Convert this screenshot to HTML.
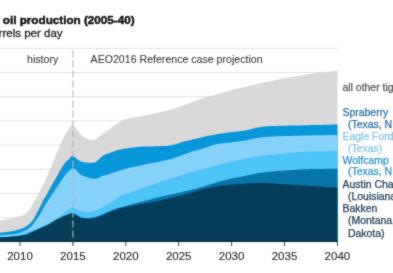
<!DOCTYPE html>
<html><head><meta charset="utf-8"><style>
html,body{margin:0;padding:0;background:#fff;width:393px;height:273px;overflow:hidden}
svg{display:block}
text{font-family:"Liberation Sans", sans-serif;stroke-width:0.45px}
.ax{font-size:11.5px;fill:#2a2a2a;stroke:#2a2a2a;stroke-width:0.12px}
.lg{font-size:10.45px;stroke-width:0.25px}
</style></head><body>
<svg width="393" height="273" viewBox="0 0 393 273">
<defs><filter id="bl" color-interpolation-filters="sRGB" x="0" y="0" width="393" height="273" filterUnits="userSpaceOnUse"><feConvolveMatrix order="3" kernelMatrix="1 2 1 2 16 2 1 2 1" divisor="28" edgeMode="duplicate" preserveAlpha="true"/></filter></defs>
<g filter="url(#bl)">
<rect width="393" height="273" fill="#fff"/>
<text x="2.8" y="24.2" style="font-size:11.7px;font-weight:bold;fill:#111;stroke:#111">oil production (2005-40)</text>
<text x="-1.4" y="37.3" style="font-size:11.5px;fill:#222;stroke:#222;stroke-width:0.3px">rrels per day</text>
<line x1="0" y1="48.3" x2="338" y2="48.3" stroke="#e2e2e2" stroke-width="1"/><line x1="0" y1="72.5" x2="338" y2="72.5" stroke="#e2e2e2" stroke-width="1"/><line x1="0" y1="96.7" x2="338" y2="96.7" stroke="#e2e2e2" stroke-width="1"/><line x1="0" y1="120.9" x2="338" y2="120.9" stroke="#e2e2e2" stroke-width="1"/><line x1="0" y1="145.1" x2="338" y2="145.1" stroke="#e2e2e2" stroke-width="1"/><line x1="0" y1="169.3" x2="338" y2="169.3" stroke="#e2e2e2" stroke-width="1"/><line x1="0" y1="193.5" x2="338" y2="193.5" stroke="#e2e2e2" stroke-width="1"/><line x1="0" y1="217.7" x2="338" y2="217.7" stroke="#e2e2e2" stroke-width="1"/>
<text x="27" y="62.8" style="font-size:10.6px;fill:#333;stroke:#333;stroke-width:0.05px">history</text>
<text x="90.6" y="62.8" style="font-size:10.6px;fill:#333;stroke:#333;stroke-width:0.05px">AEO2016 Reference case projection</text>
<polygon points="-2.0,221.0 -1.4,220.9 -0.7,220.7 0.1,220.6 1.0,220.4 2.0,220.2 3.0,220.0 4.1,219.8 5.3,219.5 6.4,219.3 7.6,219.0 8.8,218.8 10.0,218.6 11.1,218.3 12.2,218.1 13.2,217.8 14.1,217.6 15.0,217.4 16.3,217.1 17.5,216.8 18.7,216.5 19.8,216.3 20.8,216.0 21.7,215.7 22.7,215.4 23.6,215.0 24.4,214.6 25.3,214.0 26.7,212.9 27.9,211.5 29.1,210.0 30.2,208.4 31.2,206.8 32.2,205.3 33.3,203.6 34.3,201.9 35.2,200.2 36.2,198.2 37.4,196.0 38.3,194.3 39.2,192.6 40.2,190.8 41.2,188.8 42.4,186.6 43.6,184.0 45.0,181.0 45.9,178.9 46.9,176.5 48.1,173.9 49.2,171.1 50.4,168.2 51.7,165.2 52.9,162.3 54.0,159.4 55.1,156.7 56.2,154.2 57.1,151.9 57.9,150.0 59.6,145.9 60.6,143.3 61.4,141.5 62.3,139.5 63.5,137.2 64.6,135.1 65.8,133.1 67.1,131.3 68.2,129.7 69.2,128.1 70.4,126.6 71.5,125.6 72.7,125.3 73.7,125.8 74.8,126.8 75.9,128.2 77.0,129.8 78.1,131.3 79.2,132.6 80.2,133.6 81.1,134.7 82.1,135.6 83.0,136.5 84.0,137.3 85.2,138.0 86.2,138.5 87.2,138.9 88.3,139.3 89.5,139.7 90.7,139.9 91.8,140.1 92.9,140.1 94.0,140.0 95.1,139.6 96.2,139.0 97.2,138.2 98.2,137.4 99.3,136.4 100.4,135.4 101.6,134.5 102.6,133.8 103.7,133.0 104.8,132.2 105.9,131.4 107.1,130.6 108.2,129.8 109.4,129.0 110.5,128.2 111.5,127.5 112.6,126.7 113.7,126.0 114.7,125.2 115.7,124.5 116.7,123.9 117.7,123.2 118.7,122.6 119.7,122.0 120.7,121.5 121.7,121.0 122.6,120.5 123.6,120.0 124.5,119.6 125.6,119.2 126.7,118.9 128.0,118.5 128.8,118.3 129.7,118.1 130.6,117.9 131.6,117.8 132.5,117.6 133.5,117.5 134.6,117.3 135.6,117.2 136.7,117.0 137.7,116.9 138.8,116.7 139.9,116.5 141.0,116.3 142.0,116.1 142.9,115.9 143.9,115.7 144.9,115.5 145.9,115.3 147.0,115.1 148.0,114.9 149.1,114.7 150.1,114.4 151.2,114.2 152.2,114.0 153.3,113.7 154.4,113.5 155.4,113.2 156.5,113.0 157.5,112.8 158.5,112.5 159.5,112.3 160.6,112.1 161.6,111.8 162.6,111.6 163.7,111.4 164.7,111.1 165.7,110.9 166.8,110.6 167.8,110.3 168.9,110.1 169.9,109.8 170.9,109.5 172.0,109.2 173.0,108.9 174.0,108.6 175.1,108.2 176.2,107.9 177.4,107.5 178.5,107.1 179.6,106.7 180.8,106.3 181.9,105.9 183.0,105.5 184.0,105.1 185.1,104.7 186.1,104.4 187.0,104.0 187.9,103.7 188.7,103.4 189.4,103.1 191.1,102.4 192.0,102.0 192.6,101.6 193.5,101.3 195.0,100.7 195.7,100.5 196.5,100.2 197.4,99.9 198.3,99.6 199.3,99.3 200.3,99.0 201.4,98.7 202.5,98.4 203.5,98.1 204.7,97.8 205.8,97.4 206.8,97.1 207.9,96.8 209.0,96.5 210.0,96.2 211.0,95.9 212.0,95.6 213.0,95.3 214.0,95.0 215.0,94.7 216.0,94.4 217.0,94.2 218.0,93.9 219.0,93.6 220.0,93.3 221.0,93.0 222.0,92.7 223.0,92.5 224.0,92.2 225.0,91.9 226.0,91.6 227.0,91.4 228.0,91.1 229.0,90.8 230.0,90.6 231.0,90.3 232.0,90.0 233.0,89.8 234.0,89.5 235.0,89.3 236.0,89.0 237.0,88.8 238.0,88.5 239.0,88.3 240.0,88.0 241.0,87.8 242.0,87.5 243.0,87.3 244.0,87.0 245.0,86.8 246.0,86.5 247.0,86.3 248.0,86.0 249.0,85.8 250.0,85.6 251.0,85.3 252.0,85.1 253.0,84.9 254.0,84.6 255.0,84.4 256.0,84.2 257.0,84.0 258.0,83.7 259.0,83.5 260.0,83.3 261.0,83.1 262.0,82.9 263.0,82.7 264.0,82.4 265.0,82.2 266.0,82.0 267.0,81.8 268.0,81.6 269.0,81.4 270.0,81.2 271.0,81.0 272.0,80.8 273.0,80.6 274.0,80.4 275.0,80.2 276.0,80.0 277.0,79.8 278.0,79.6 279.0,79.4 280.0,79.2 281.0,79.0 282.0,78.8 283.0,78.6 284.0,78.4 285.0,78.2 286.0,78.0 287.0,77.8 288.0,77.6 289.0,77.5 290.0,77.3 291.0,77.1 292.0,76.9 293.0,76.8 294.0,76.6 295.0,76.4 296.0,76.3 297.0,76.1 298.0,75.9 299.0,75.8 300.0,75.6 301.0,75.4 301.9,75.3 302.9,75.1 303.8,75.0 304.7,74.8 305.6,74.7 306.6,74.5 307.5,74.4 308.5,74.2 309.4,74.1 310.5,73.9 311.5,73.8 312.6,73.6 313.8,73.5 315.0,73.3 315.9,73.2 316.8,73.1 317.9,72.9 318.9,72.8 320.1,72.7 321.2,72.5 322.4,72.4 323.6,72.2 324.8,72.1 326.0,71.9 327.2,71.8 328.4,71.7 329.5,71.5 330.7,71.4 331.7,71.3 332.8,71.2 333.8,71.0 334.7,70.9 335.5,70.8 336.3,70.7 336.9,70.7 337.5,70.6 337.5,242.0 -2,242.0" fill="#d9d9d9"/>
<polygon points="-2.0,233.2 -1.4,233.1 -0.7,233.0 0.1,232.9 1.0,232.8 2.0,232.6 3.0,232.5 4.1,232.3 5.3,232.2 6.4,232.0 7.6,231.8 8.8,231.6 10.0,231.4 11.1,231.3 12.2,231.1 13.2,230.9 14.1,230.7 15.0,230.5 16.3,230.2 17.5,229.9 18.7,229.6 19.8,229.2 20.8,228.9 21.7,228.6 22.7,228.2 23.6,227.8 24.4,227.4 25.3,226.9 26.6,226.1 27.9,225.3 29.0,224.4 30.0,223.4 31.1,222.3 32.2,220.9 33.4,219.2 34.6,217.2 35.8,215.0 37.0,212.8 38.1,210.7 39.1,208.8 40.3,206.3 41.4,204.0 42.3,201.9 43.2,200.0 43.9,198.9 44.4,198.3 46.4,195.0 47.1,193.8 47.9,192.4 48.8,190.8 49.7,189.0 50.8,187.1 51.9,185.1 53.0,183.0 54.2,180.9 55.4,178.8 56.6,176.7 57.7,174.7 58.8,172.7 59.9,170.9 60.8,169.2 61.7,167.8 62.5,166.5 64.0,164.2 65.3,162.6 66.3,161.4 67.2,160.5 68.0,159.9 68.8,159.3 69.5,158.6 70.8,157.0 71.6,156.1 73.0,156.0 73.8,156.3 74.6,156.9 75.5,157.7 76.5,158.6 77.6,159.5 78.7,160.3 79.8,161.1 81.0,161.6 81.9,161.9 82.9,162.1 84.0,162.3 85.1,162.4 86.2,162.5 87.3,162.6 88.4,162.7 89.4,162.7 90.4,162.7 91.2,162.7 92.0,162.7 93.5,162.7 94.5,162.6 95.3,162.3 96.4,161.6 97.4,160.8 98.4,159.8 99.6,158.6 100.7,157.5 101.9,156.4 103.0,155.5 104.1,154.9 105.1,154.4 106.1,154.1 107.1,153.8 108.3,153.4 109.6,153.0 110.4,152.7 111.3,152.4 112.1,152.0 113.0,151.7 114.0,151.3 115.0,151.0 116.1,150.6 117.2,150.3 118.6,149.9 120.0,149.6 120.8,149.4 121.6,149.3 122.5,149.1 123.5,148.9 124.4,148.8 125.5,148.6 126.5,148.4 127.5,148.3 128.6,148.1 129.7,148.0 130.8,147.8 131.9,147.7 133.0,147.5 134.1,147.4 135.1,147.2 136.2,147.1 137.2,147.0 138.2,146.9 139.1,146.8 140.0,146.7 141.1,146.6 142.3,146.5 143.3,146.5 144.4,146.4 145.4,146.4 146.4,146.4 147.3,146.4 148.3,146.4 149.2,146.4 150.2,146.4 151.1,146.4 152.1,146.4 153.0,146.4 154.0,146.3 155.0,146.3 156.0,146.3 157.0,146.2 158.0,146.2 159.1,146.2 160.1,146.2 161.1,146.1 162.1,146.1 163.1,146.1 164.1,146.0 165.1,146.0 166.1,145.9 167.1,145.9 168.1,145.8 169.1,145.6 170.0,145.5 171.1,145.3 172.2,145.1 173.3,144.8 174.3,144.5 175.4,144.2 176.5,143.9 177.5,143.5 178.5,143.2 179.5,142.9 180.5,142.6 181.4,142.3 182.2,142.0 183.0,141.8 184.2,141.5 185.2,141.3 186.0,141.1 186.8,140.9 187.6,140.7 188.6,140.5 190.0,140.2 190.8,140.0 191.6,139.8 192.6,139.6 193.6,139.3 194.6,139.1 195.7,138.8 196.8,138.5 197.9,138.2 199.0,138.0 200.1,137.7 201.1,137.4 202.2,137.2 203.2,136.9 204.1,136.7 205.0,136.5 206.2,136.2 207.2,136.0 208.2,135.8 209.1,135.6 210.0,135.4 210.9,135.2 211.8,135.1 212.8,134.9 213.8,134.7 215.0,134.5 215.9,134.4 216.7,134.2 217.7,134.1 218.6,133.9 219.6,133.8 220.6,133.6 221.7,133.5 222.7,133.3 223.8,133.2 224.8,133.0 225.9,132.9 226.9,132.7 228.0,132.6 229.0,132.4 230.0,132.3 231.0,132.2 232.0,132.1 232.9,131.9 233.9,131.8 234.8,131.8 235.8,131.7 236.7,131.6 237.7,131.5 238.6,131.4 239.6,131.2 240.6,131.1 241.7,131.0 242.7,130.8 243.9,130.7 245.0,130.5 245.9,130.3 246.7,130.2 247.5,130.0 248.4,129.8 249.2,129.6 250.0,129.4 250.8,129.2 251.7,128.9 252.5,128.7 253.4,128.5 254.4,128.2 255.3,128.0 256.3,127.8 257.4,127.6 258.5,127.4 259.6,127.2 260.9,127.0 262.2,126.8 263.5,126.6 265.0,126.5 265.8,126.4 266.6,126.4 267.4,126.3 268.2,126.3 269.1,126.2 270.0,126.2 270.9,126.1 271.8,126.1 272.8,126.0 273.8,126.0 274.8,126.0 275.8,125.9 276.8,125.9 277.8,125.9 278.9,125.8 279.9,125.8 281.0,125.8 282.1,125.7 283.1,125.7 284.2,125.7 285.3,125.7 286.4,125.7 287.5,125.6 288.6,125.6 289.7,125.6 290.8,125.6 291.8,125.6 292.9,125.5 294.0,125.5 295.1,125.5 296.1,125.5 297.2,125.5 298.2,125.5 299.2,125.4 300.2,125.4 301.2,125.4 302.2,125.4 303.1,125.3 304.1,125.3 305.0,125.3 306.1,125.3 307.3,125.2 308.5,125.2 309.6,125.2 310.8,125.1 312.0,125.1 313.2,125.1 314.4,125.1 315.6,125.0 316.8,125.0 318.0,125.0 319.2,124.9 320.3,124.9 321.5,124.9 322.6,124.9 323.8,124.8 324.9,124.8 325.9,124.8 327.0,124.7 328.0,124.7 329.0,124.7 330.0,124.7 330.9,124.7 331.8,124.6 332.7,124.6 333.5,124.6 334.3,124.6 335.0,124.6 335.7,124.5 336.4,124.5 337.0,124.5 337.5,124.5 337.5,242.0 -2,242.0" fill="#0896da"/>
<polygon points="-2.0,235.5 -1.4,235.5 -0.7,235.4 0.1,235.4 1.0,235.3 2.0,235.2 3.0,235.2 4.1,235.1 5.3,235.0 6.4,234.9 7.6,234.8 8.8,234.7 10.0,234.6 11.1,234.5 12.2,234.4 13.2,234.3 14.1,234.1 15.0,234.0 16.3,233.7 17.6,233.4 18.8,233.1 19.9,232.7 20.9,232.3 21.9,232.0 22.8,231.6 23.7,231.2 24.5,230.8 25.3,230.5 26.9,229.7 28.2,228.9 29.1,228.2 30.0,227.5 31.0,226.9 32.2,225.5 33.1,224.3 34.2,222.8 35.4,221.1 36.7,219.3 38.0,217.5 39.1,215.7 40.4,213.6 41.6,211.5 42.7,209.3 43.9,207.3 45.0,205.3 46.0,203.7 46.9,202.4 47.8,201.0 48.9,199.3 50.5,197.0 51.3,195.7 52.3,194.3 53.3,192.7 54.4,190.9 55.5,189.1 56.7,187.3 57.9,185.4 59.1,183.6 60.2,181.9 61.4,180.3 62.4,178.8 63.4,177.5 64.6,176.0 65.8,174.5 66.9,173.2 68.0,171.9 69.0,170.9 70.0,170.0 71.0,169.3 72.0,168.8 73.0,168.5 74.0,168.6 75.0,169.1 75.9,169.8 76.8,170.8 77.7,171.9 78.7,173.0 79.8,174.0 81.0,174.8 81.9,175.2 82.8,175.6 83.8,176.0 84.8,176.4 85.9,176.8 87.0,177.1 88.1,177.5 89.2,177.8 90.3,178.1 91.3,178.3 92.4,178.5 93.3,178.6 94.2,178.7 95.5,178.7 96.7,178.5 97.7,178.2 98.7,177.8 99.7,177.3 100.7,176.8 101.8,176.3 103.0,175.9 103.9,175.6 104.9,175.3 105.8,175.0 106.8,174.7 107.9,174.4 108.9,174.0 109.9,173.7 110.9,173.4 112.0,173.0 113.0,172.7 114.0,172.4 115.0,172.1 115.9,171.8 116.9,171.5 117.8,171.2 118.8,170.9 119.7,170.5 120.7,170.2 121.7,169.9 122.8,169.6 123.8,169.3 125.0,169.0 125.9,168.8 126.7,168.6 127.5,168.4 128.3,168.1 129.1,167.9 130.0,167.7 130.9,167.5 131.8,167.3 132.7,167.1 133.7,166.9 134.8,166.6 136.0,166.4 137.2,166.1 138.6,165.8 140.0,165.5 140.8,165.3 141.6,165.2 142.4,165.0 143.3,164.8 144.2,164.6 145.2,164.4 146.2,164.2 147.2,164.0 148.2,163.8 149.3,163.6 150.3,163.4 151.4,163.2 152.5,163.0 153.6,162.8 154.7,162.6 155.8,162.3 156.9,162.1 158.0,161.9 159.1,161.7 160.2,161.4 161.3,161.2 162.3,161.0 163.4,160.8 164.4,160.5 165.4,160.3 166.4,160.1 167.3,159.9 168.3,159.6 169.1,159.4 170.0,159.2 171.2,158.9 172.4,158.5 173.6,158.2 174.7,157.8 175.8,157.5 176.9,157.1 177.9,156.7 179.0,156.4 180.0,156.0 180.9,155.6 181.9,155.3 182.8,154.9 183.8,154.5 184.7,154.2 185.6,153.9 186.5,153.5 187.4,153.2 188.2,152.9 189.1,152.6 190.0,152.3 191.2,151.9 192.3,151.6 193.4,151.3 194.5,150.9 195.6,150.6 196.6,150.4 197.6,150.1 198.6,149.8 199.6,149.5 200.6,149.3 201.5,149.0 202.4,148.8 203.3,148.5 204.2,148.3 205.0,148.0 206.2,147.6 207.2,147.2 208.2,146.8 209.1,146.5 210.0,146.1 210.9,145.8 211.8,145.4 212.8,145.1 213.8,144.8 215.0,144.5 215.9,144.3 216.7,144.2 217.7,144.0 218.6,143.9 219.6,143.7 220.6,143.6 221.7,143.5 222.7,143.3 223.8,143.2 224.8,143.1 225.9,143.0 226.9,142.9 228.0,142.8 229.0,142.6 230.0,142.5 231.0,142.4 232.0,142.2 232.9,142.1 233.9,142.0 234.8,141.9 235.8,141.8 236.7,141.7 237.7,141.5 238.6,141.4 239.6,141.3 240.6,141.1 241.7,141.0 242.7,140.8 243.9,140.7 245.0,140.5 245.9,140.4 246.7,140.2 247.5,140.0 248.4,139.9 249.2,139.7 250.0,139.5 250.8,139.3 251.7,139.1 252.5,138.9 253.4,138.7 254.4,138.5 255.3,138.3 256.3,138.1 257.4,138.0 258.5,137.8 259.6,137.6 260.9,137.4 262.2,137.3 263.5,137.1 265.0,137.0 265.8,136.9 266.6,136.9 267.4,136.8 268.2,136.8 269.1,136.7 270.0,136.7 270.9,136.6 271.8,136.6 272.8,136.5 273.8,136.5 274.8,136.4 275.8,136.4 276.8,136.3 277.8,136.3 278.9,136.2 279.9,136.2 281.0,136.2 282.1,136.1 283.1,136.1 284.2,136.1 285.3,136.0 286.4,136.0 287.5,136.0 288.6,135.9 289.7,135.9 290.8,135.9 291.8,135.8 292.9,135.8 294.0,135.8 295.1,135.8 296.1,135.7 297.2,135.7 298.2,135.7 299.2,135.7 300.2,135.6 301.2,135.6 302.2,135.6 303.1,135.6 304.1,135.5 305.0,135.5 306.1,135.5 307.3,135.4 308.5,135.4 309.6,135.4 310.8,135.4 312.0,135.3 313.2,135.3 314.4,135.3 315.6,135.3 316.8,135.3 318.0,135.2 319.2,135.2 320.3,135.2 321.5,135.2 322.6,135.2 323.8,135.2 324.9,135.1 325.9,135.1 327.0,135.1 328.0,135.1 329.0,135.1 330.0,135.1 330.9,135.1 331.8,135.1 332.7,135.1 333.5,135.0 334.3,135.0 335.0,135.0 335.7,135.0 336.4,135.0 337.0,135.0 337.5,135.0 337.5,242.0 -2,242.0" fill="#86d1f8"/>
<polygon points="-2.0,236.5 -1.4,236.5 -0.8,236.4 0.0,236.4 0.9,236.4 1.8,236.4 2.8,236.4 3.9,236.3 5.0,236.3 6.1,236.3 7.3,236.2 8.5,236.2 9.6,236.1 10.8,236.0 11.9,235.9 13.0,235.8 14.0,235.7 15.0,235.5 16.1,235.3 17.1,235.1 18.2,234.8 19.3,234.5 20.3,234.2 21.4,233.9 22.4,233.6 23.4,233.3 24.5,232.9 25.4,232.6 26.4,232.3 27.4,231.9 28.3,231.6 29.1,231.3 30.0,231.0 31.2,230.6 32.3,230.2 33.3,229.8 34.2,229.5 35.2,229.1 36.1,228.7 37.0,228.3 37.9,227.9 38.9,227.5 40.0,227.0 40.9,226.6 41.9,226.2 42.8,225.8 43.8,225.4 44.7,224.9 45.7,224.5 46.7,224.0 47.8,223.5 48.9,222.9 50.0,222.3 51.2,221.6 52.4,220.9 53.3,220.3 54.3,219.7 55.4,218.9 56.5,218.2 57.6,217.4 58.8,216.5 60.0,215.7 61.2,214.8 62.4,214.0 63.5,213.1 64.7,212.3 65.7,211.5 66.8,210.8 67.7,210.1 68.6,209.5 69.3,208.9 70.0,208.5 71.8,207.1 72.0,207.0 73.0,207.5 73.7,207.7 74.6,208.1 75.5,208.5 76.5,209.0 77.6,209.5 78.7,210.0 79.9,210.5 81.0,210.9 82.1,211.3 83.2,211.5 84.2,211.7 85.1,211.8 86.0,211.9 87.0,211.9 87.9,212.0 88.9,212.0 89.8,211.9 90.9,211.8 91.9,211.6 93.0,211.3 94.2,211.0 95.1,210.7 96.1,210.3 97.1,209.9 98.1,209.5 99.2,209.0 100.3,208.5 101.4,207.9 102.5,207.3 103.6,206.8 104.7,206.2 105.7,205.6 106.8,205.0 107.8,204.5 108.7,203.9 109.6,203.4 110.8,202.6 112.0,201.8 113.1,201.0 114.1,200.2 115.1,199.4 116.1,198.7 117.1,197.9 118.0,197.2 119.0,196.6 120.0,196.0 120.9,195.5 121.7,195.2 122.4,194.9 123.1,194.7 123.8,194.4 124.6,194.2 125.5,193.9 126.7,193.6 128.2,193.1 130.0,192.5 130.7,192.3 131.4,192.0 132.2,191.7 133.1,191.4 134.0,191.1 134.9,190.8 135.8,190.4 136.8,190.1 137.8,189.7 138.9,189.4 140.0,189.0 141.0,188.6 142.1,188.2 143.3,187.8 144.4,187.4 145.5,187.0 146.6,186.6 147.8,186.2 148.9,185.9 150.0,185.5 151.1,185.1 152.2,184.7 153.3,184.3 154.3,184.0 155.3,183.6 156.3,183.3 157.3,182.9 158.2,182.6 159.1,182.3 160.0,182.0 161.2,181.6 162.4,181.2 163.5,180.8 164.6,180.4 165.7,180.1 166.7,179.7 167.7,179.4 168.7,179.1 169.7,178.7 170.6,178.4 171.6,178.1 172.5,177.8 173.4,177.5 174.3,177.3 175.2,177.0 176.2,176.7 177.1,176.4 178.0,176.1 179.0,175.8 180.0,175.5 181.0,175.2 182.0,174.9 182.9,174.6 183.8,174.4 184.8,174.1 185.7,173.9 186.6,173.6 187.5,173.3 188.4,173.1 189.4,172.8 190.3,172.6 191.3,172.3 192.3,172.1 193.3,171.8 194.3,171.5 195.4,171.2 196.5,171.0 197.6,170.6 198.8,170.3 200.0,170.0 200.8,169.8 201.7,169.5 202.6,169.3 203.5,169.0 204.4,168.8 205.4,168.5 206.3,168.3 207.3,168.0 208.3,167.7 209.3,167.4 210.3,167.2 211.3,166.9 212.3,166.6 213.3,166.3 214.4,166.0 215.4,165.7 216.5,165.5 217.5,165.2 218.6,164.9 219.6,164.6 220.7,164.3 221.7,164.1 222.8,163.8 223.8,163.5 224.9,163.2 225.9,163.0 227.0,162.7 228.0,162.5 229.0,162.2 230.0,162.0 231.0,161.8 232.0,161.5 233.0,161.3 234.1,161.1 235.1,160.8 236.2,160.6 237.2,160.4 238.3,160.2 239.3,159.9 240.4,159.7 241.4,159.5 242.5,159.3 243.5,159.0 244.6,158.8 245.6,158.6 246.7,158.4 247.7,158.2 248.7,158.0 249.7,157.8 250.7,157.6 251.7,157.4 252.7,157.3 253.7,157.1 254.6,156.9 255.6,156.7 256.5,156.6 257.4,156.4 258.3,156.3 259.2,156.1 260.0,156.0 261.2,155.8 262.4,155.6 263.5,155.5 264.6,155.3 265.6,155.2 266.6,155.1 267.5,155.0 268.5,154.9 269.4,154.8 270.3,154.8 271.2,154.7 272.1,154.6 273.0,154.6 273.9,154.5 274.9,154.4 275.8,154.4 276.8,154.3 277.8,154.2 278.9,154.1 280.0,154.0 280.9,153.9 281.8,153.8 282.7,153.7 283.6,153.6 284.6,153.5 285.5,153.4 286.4,153.3 287.4,153.2 288.3,153.1 289.3,153.0 290.2,152.9 291.2,152.8 292.2,152.7 293.2,152.6 294.2,152.5 295.2,152.4 296.3,152.3 297.3,152.2 298.4,152.1 299.4,152.1 300.5,152.0 301.6,151.9 302.7,151.8 303.9,151.8 305.0,151.7 305.9,151.7 306.9,151.6 307.9,151.6 308.9,151.5 310.0,151.5 311.1,151.5 312.2,151.4 313.4,151.4 314.5,151.4 315.7,151.3 316.9,151.3 318.1,151.3 319.3,151.3 320.4,151.2 321.6,151.2 322.8,151.2 324.0,151.2 325.1,151.2 326.3,151.2 327.4,151.1 328.4,151.1 329.5,151.1 330.5,151.1 331.5,151.1 332.4,151.1 333.3,151.1 334.2,151.1 334.9,151.0 335.7,151.0 336.3,151.0 337.0,151.0 337.5,151.0 337.5,242.0 -2,242.0" fill="#4dc5f8"/>
<polygon points="-2.0,237.5 -1.4,237.5 -0.7,237.4 0.1,237.4 1.0,237.3 2.0,237.3 3.0,237.2 4.1,237.2 5.3,237.1 6.4,237.0 7.6,237.0 8.8,236.9 10.0,236.8 11.1,236.7 12.2,236.6 13.2,236.6 14.1,236.5 15.0,236.4 16.3,236.3 17.6,236.1 18.8,235.9 19.9,235.8 20.9,235.6 21.9,235.4 22.8,235.2 23.7,235.1 24.5,234.9 25.3,234.7 26.6,234.4 27.2,234.1 28.1,233.7 30.0,232.8 30.7,232.5 31.5,232.2 32.3,231.8 33.3,231.4 34.2,231.0 35.3,230.5 36.4,230.1 37.5,229.6 38.6,229.1 39.7,228.6 40.9,228.1 42.0,227.6 43.1,227.1 44.2,226.6 45.3,226.1 46.3,225.7 47.2,225.2 48.4,224.6 49.5,224.0 50.7,223.3 51.8,222.7 52.8,222.1 53.9,221.4 54.9,220.8 56.0,220.1 57.0,219.5 58.0,219.0 59.0,218.4 60.0,217.9 61.0,217.4 62.1,216.9 63.1,216.4 64.2,215.9 65.2,215.4 66.3,215.0 67.3,214.5 68.3,214.2 69.3,213.8 70.3,213.6 71.2,213.4 72.1,213.2 73.0,213.2 74.1,213.3 75.1,213.7 76.1,214.2 77.0,214.8 77.9,215.5 78.8,216.1 79.8,216.7 80.8,217.2 82.0,217.5 82.9,217.6 83.8,217.7 84.7,217.8 85.6,217.9 86.6,217.9 87.6,217.9 88.6,217.9 89.7,217.8 90.7,217.7 91.8,217.6 92.8,217.4 93.9,217.2 95.0,217.0 96.0,216.8 96.9,216.5 98.0,216.1 99.0,215.7 100.0,215.3 101.1,214.9 102.2,214.4 103.2,214.0 104.3,213.5 105.3,213.0 106.3,212.6 107.3,212.1 108.2,211.7 109.1,211.3 110.0,211.0 111.1,210.6 111.8,210.3 112.4,210.0 112.9,209.8 113.4,209.5 114.1,209.3 115.0,209.0 116.2,208.6 117.8,208.1 120.0,207.5 120.6,207.3 121.3,207.1 122.1,206.9 122.9,206.7 123.7,206.5 124.6,206.2 125.5,206.0 126.4,205.8 127.4,205.5 128.4,205.2 129.4,205.0 130.4,204.7 131.5,204.4 132.6,204.1 133.7,203.8 134.8,203.5 135.9,203.2 137.1,202.9 138.2,202.6 139.4,202.3 140.5,202.0 141.7,201.7 142.8,201.4 144.0,201.1 145.1,200.8 146.3,200.5 147.4,200.2 148.5,199.9 149.6,199.6 150.7,199.4 151.8,199.1 152.8,198.8 153.8,198.6 154.8,198.3 155.8,198.1 156.7,197.8 157.6,197.6 158.4,197.4 159.2,197.2 160.0,197.0 161.5,196.6 162.8,196.3 164.1,196.0 165.3,195.7 166.4,195.5 167.5,195.2 168.5,195.0 169.4,194.8 170.4,194.6 171.2,194.4 172.1,194.2 173.0,194.0 173.8,193.9 174.6,193.7 175.5,193.5 176.3,193.3 177.2,193.1 178.1,192.9 179.0,192.7 180.0,192.5 181.0,192.3 182.0,192.0 183.0,191.8 183.9,191.6 184.9,191.3 185.8,191.1 186.8,190.9 187.8,190.7 188.7,190.4 189.7,190.2 190.7,189.9 191.6,189.7 192.6,189.5 193.6,189.2 194.6,188.9 195.7,188.7 196.7,188.4 197.8,188.1 198.9,187.8 200.0,187.5 200.9,187.2 201.9,187.0 202.8,186.7 203.8,186.4 204.8,186.1 205.9,185.8 206.9,185.5 208.0,185.1 209.0,184.8 210.1,184.5 211.2,184.1 212.3,183.8 213.3,183.5 214.4,183.1 215.5,182.8 216.5,182.5 217.6,182.2 218.6,181.8 219.6,181.5 220.6,181.3 221.5,181.0 222.4,180.7 223.3,180.5 224.2,180.2 225.0,180.0 226.3,179.7 227.4,179.4 228.5,179.1 229.5,178.9 230.4,178.7 231.2,178.6 232.1,178.4 232.9,178.3 233.8,178.1 234.6,178.0 235.5,177.8 236.5,177.6 237.6,177.5 238.7,177.2 240.0,177.0 240.8,176.8 241.6,176.7 242.4,176.5 243.3,176.3 244.1,176.1 245.0,175.9 245.9,175.7 246.7,175.5 247.6,175.3 248.6,175.1 249.5,174.9 250.5,174.7 251.4,174.5 252.4,174.3 253.4,174.1 254.5,173.9 255.5,173.7 256.6,173.5 257.7,173.3 258.9,173.1 260.0,172.9 261.2,172.7 262.5,172.5 263.7,172.4 265.0,172.2 265.8,172.1 266.7,172.0 267.5,171.9 268.4,171.8 269.3,171.7 270.3,171.6 271.2,171.5 272.2,171.5 273.1,171.4 274.1,171.3 275.1,171.2 276.1,171.1 277.2,171.0 278.2,170.9 279.2,170.9 280.3,170.8 281.3,170.7 282.4,170.6 283.5,170.6 284.5,170.5 285.6,170.4 286.7,170.3 287.7,170.3 288.8,170.2 289.9,170.1 291.0,170.1 292.0,170.0 293.1,169.9 294.1,169.9 295.2,169.8 296.2,169.8 297.2,169.7 298.3,169.6 299.3,169.6 300.3,169.5 301.2,169.5 302.2,169.4 303.2,169.4 304.1,169.3 305.0,169.3 306.1,169.2 307.3,169.2 308.5,169.2 309.6,169.1 310.8,169.1 312.0,169.1 313.2,169.0 314.4,169.0 315.6,169.0 316.8,168.9 318.0,168.9 319.2,168.9 320.3,168.9 321.5,168.9 322.6,168.9 323.8,168.9 324.9,168.9 325.9,168.9 327.0,168.8 328.0,168.8 329.0,168.8 330.0,168.8 330.9,168.8 331.8,168.8 332.7,168.8 333.5,168.8 334.3,168.8 335.0,168.8 335.7,168.8 336.4,168.8 337.0,168.8 337.5,168.8 337.5,242.0 -2,242.0" fill="#0875aa"/>
<polygon points="-2.0,237.5 -1.4,237.5 -0.7,237.4 0.1,237.4 1.0,237.3 2.0,237.3 3.0,237.2 4.1,237.2 5.3,237.1 6.4,237.0 7.6,237.0 8.8,236.9 10.0,236.8 11.1,236.7 12.2,236.6 13.2,236.6 14.1,236.5 15.0,236.4 16.3,236.3 17.6,236.1 18.8,235.9 19.9,235.8 20.9,235.6 21.9,235.4 22.8,235.2 23.7,235.1 24.5,234.9 25.3,234.7 26.6,234.4 27.2,234.1 28.1,233.7 30.0,232.8 30.7,232.5 31.5,232.1 32.4,231.7 33.4,231.3 34.5,230.8 35.6,230.4 36.8,229.9 38.0,229.3 39.2,228.8 40.3,228.3 41.5,227.8 42.6,227.3 43.7,226.8 44.7,226.4 45.6,225.9 46.5,225.5 47.2,225.2 49.0,224.3 50.0,223.7 50.7,223.2 51.3,222.7 52.4,222.0 53.3,221.5 54.3,220.9 55.4,220.3 56.5,219.7 57.6,219.1 58.7,218.5 59.9,217.9 61.0,217.4 62.0,217.0 63.1,216.5 64.2,216.1 65.3,215.6 66.4,215.2 67.4,214.9 68.4,214.5 69.3,214.2 70.0,214.0 71.2,213.4 71.8,213.2 73.0,213.5 73.7,213.8 74.5,214.3 75.4,214.8 76.4,215.4 77.4,216.0 78.5,216.6 79.6,217.2 80.8,217.7 82.0,218.0 82.9,218.2 83.8,218.3 84.7,218.4 85.6,218.5 86.6,218.6 87.6,218.6 88.6,218.7 89.7,218.6 90.7,218.6 91.8,218.5 92.8,218.4 93.9,218.2 95.0,218.0 96.0,217.8 96.9,217.5 98.0,217.1 99.0,216.8 100.0,216.4 101.1,215.9 102.2,215.5 103.2,215.0 104.3,214.5 105.3,214.0 106.3,213.6 107.3,213.1 108.2,212.7 109.1,212.3 110.0,212.0 111.2,211.5 112.3,211.1 113.4,210.7 114.4,210.4 115.3,210.0 116.2,209.7 117.2,209.4 118.1,209.1 119.0,208.8 120.0,208.5 120.9,208.2 121.7,208.0 122.4,207.9 123.0,207.7 123.8,207.5 124.6,207.4 125.5,207.2 126.7,206.9 128.2,206.7 130.0,206.3 130.7,206.2 131.4,206.0 132.2,205.9 133.0,205.7 133.8,205.6 134.7,205.4 135.6,205.2 136.6,205.1 137.5,204.9 138.5,204.7 139.5,204.5 140.6,204.3 141.6,204.1 142.7,203.9 143.8,203.7 144.8,203.5 145.9,203.3 147.0,203.1 148.1,202.9 149.3,202.7 150.4,202.5 151.5,202.3 152.6,202.0 153.7,201.8 154.8,201.6 155.8,201.4 156.9,201.2 158.0,200.9 159.0,200.7 160.0,200.5 161.0,200.3 162.0,200.0 163.1,199.8 164.2,199.6 165.2,199.3 166.3,199.0 167.4,198.8 168.5,198.5 169.6,198.2 170.7,198.0 171.9,197.7 173.0,197.4 174.1,197.1 175.2,196.9 176.2,196.6 177.3,196.3 178.4,196.0 179.4,195.8 180.5,195.5 181.5,195.2 182.5,195.0 183.4,194.7 184.4,194.5 185.3,194.2 186.2,194.0 187.0,193.8 187.8,193.6 188.6,193.4 189.3,193.2 190.0,193.0 191.8,192.5 193.1,192.1 194.1,191.8 194.9,191.5 195.6,191.3 196.2,191.1 196.8,190.9 197.6,190.6 198.6,190.3 200.0,190.0 200.8,189.8 201.6,189.6 202.4,189.4 203.3,189.2 204.3,189.0 205.3,188.8 206.3,188.5 207.3,188.3 208.3,188.1 209.4,187.8 210.5,187.6 211.6,187.4 212.7,187.1 213.7,186.9 214.8,186.7 215.9,186.5 217.0,186.3 218.0,186.1 219.0,185.9 220.0,185.8 221.0,185.6 222.0,185.4 223.1,185.3 224.1,185.2 225.1,185.1 226.1,185.0 227.0,184.9 228.0,184.8 229.0,184.7 230.0,184.6 230.9,184.6 231.9,184.5 232.9,184.4 233.8,184.4 234.8,184.3 235.8,184.2 236.9,184.2 237.9,184.1 238.9,184.1 240.0,184.0 240.9,183.9 241.8,183.9 242.7,183.8 243.6,183.7 244.4,183.7 245.3,183.6 246.1,183.5 247.0,183.4 247.8,183.4 248.7,183.3 249.6,183.2 250.5,183.2 251.5,183.1 252.5,183.1 253.5,183.0 254.5,183.0 255.7,183.0 256.8,183.0 258.0,183.0 259.3,183.0 260.6,183.0 262.0,183.0 262.8,183.0 263.6,183.0 264.4,183.1 265.3,183.1 266.1,183.1 267.0,183.2 268.0,183.2 268.9,183.3 269.9,183.3 270.8,183.4 271.8,183.4 272.8,183.5 273.8,183.5 274.8,183.6 275.9,183.7 276.9,183.7 278.0,183.8 279.0,183.9 280.1,183.9 281.2,184.0 282.3,184.1 283.3,184.2 284.4,184.2 285.5,184.3 286.6,184.4 287.7,184.5 288.8,184.5 289.8,184.6 290.9,184.7 292.0,184.8 293.0,184.8 294.1,184.9 295.1,185.0 296.2,185.0 297.2,185.1 298.2,185.2 299.2,185.2 300.2,185.3 301.1,185.4 302.1,185.4 303.0,185.5 304.1,185.6 305.3,185.6 306.4,185.7 307.6,185.8 308.7,185.9 309.9,185.9 311.1,186.0 312.3,186.1 313.5,186.2 314.7,186.3 315.9,186.3 317.0,186.4 318.2,186.5 319.4,186.6 320.5,186.7 321.7,186.7 322.8,186.8 323.9,186.9 325.0,187.0 326.1,187.0 327.1,187.1 328.1,187.2 329.1,187.2 330.1,187.3 331.0,187.4 331.9,187.4 332.7,187.5 333.6,187.5 334.3,187.6 335.1,187.6 335.7,187.7 336.4,187.7 337.0,187.8 337.5,187.8 337.5,242.0 -2,242.0" fill="#063e59"/>
<line x1="72.9" y1="50.5" x2="72.9" y2="244" stroke="#b4b4b4" stroke-width="1.1" stroke-dasharray="7,3"/>
<line x1="0" y1="241.4" x2="337.5" y2="241.4" stroke="#082838" stroke-width="1.2"/>
<line x1="20.0" y1="242.0" x2="20.0" y2="246" stroke="#444" stroke-width="1"/><text x="20.0" y="260" text-anchor="middle" class="ax">2010</text><line x1="72.9" y1="242.0" x2="72.9" y2="246" stroke="#444" stroke-width="1"/><text x="72.9" y="260" text-anchor="middle" class="ax">2015</text><line x1="125.8" y1="242.0" x2="125.8" y2="246" stroke="#444" stroke-width="1"/><text x="125.8" y="260" text-anchor="middle" class="ax">2020</text><line x1="178.7" y1="242.0" x2="178.7" y2="246" stroke="#444" stroke-width="1"/><text x="178.7" y="260" text-anchor="middle" class="ax">2025</text><line x1="231.6" y1="242.0" x2="231.6" y2="246" stroke="#444" stroke-width="1"/><text x="231.6" y="260" text-anchor="middle" class="ax">2030</text><line x1="284.5" y1="242.0" x2="284.5" y2="246" stroke="#444" stroke-width="1"/><text x="284.5" y="260" text-anchor="middle" class="ax">2035</text><line x1="337.4" y1="242.0" x2="337.4" y2="246" stroke="#444" stroke-width="1"/><text x="337.4" y="260" text-anchor="middle" class="ax">2040</text>
<text x="342.5" y="91" class="lg" style="fill:#555;stroke:#555">all other tight oil</text>
<text x="342.5" y="116" class="lg" style="fill:#266fa9;stroke:#266fa9">Spraberry</text>
<text x="348" y="128.2" class="lg" style="fill:#266fa9;stroke:#266fa9">(Texas, N</text>
<text x="342.5" y="140.2" class="lg" style="fill:#82c7ec;stroke:#82c7ec">Eagle Ford</text>
<text x="348" y="151.8" class="lg" style="fill:#82c7ec;stroke:#82c7ec">(Texas)</text>
<text x="342.5" y="163.8" class="lg" style="fill:#2a93d0;stroke:#2a93d0">Wolfcamp</text>
<text x="348" y="175.4" class="lg" style="fill:#2a93d0;stroke:#2a93d0">(Texas, N</text>
<text x="342.5" y="188.2" class="lg" style="fill:#213f59;stroke:#213f59">Austin Chalk</text>
<text x="348" y="199.6" class="lg" style="fill:#213f59;stroke:#213f59">(Louisiana, Texas)</text>
<text x="342.5" y="212.2" class="lg" style="fill:#213f59;stroke:#213f59">Bakken</text>
<text x="348" y="224.2" class="lg" style="fill:#213f59;stroke:#213f59">(Montana, North</text>
<text x="348" y="237.3" class="lg" style="fill:#213f59;stroke:#213f59">Dakota)</text>
</g>
</svg>
</body></html>
